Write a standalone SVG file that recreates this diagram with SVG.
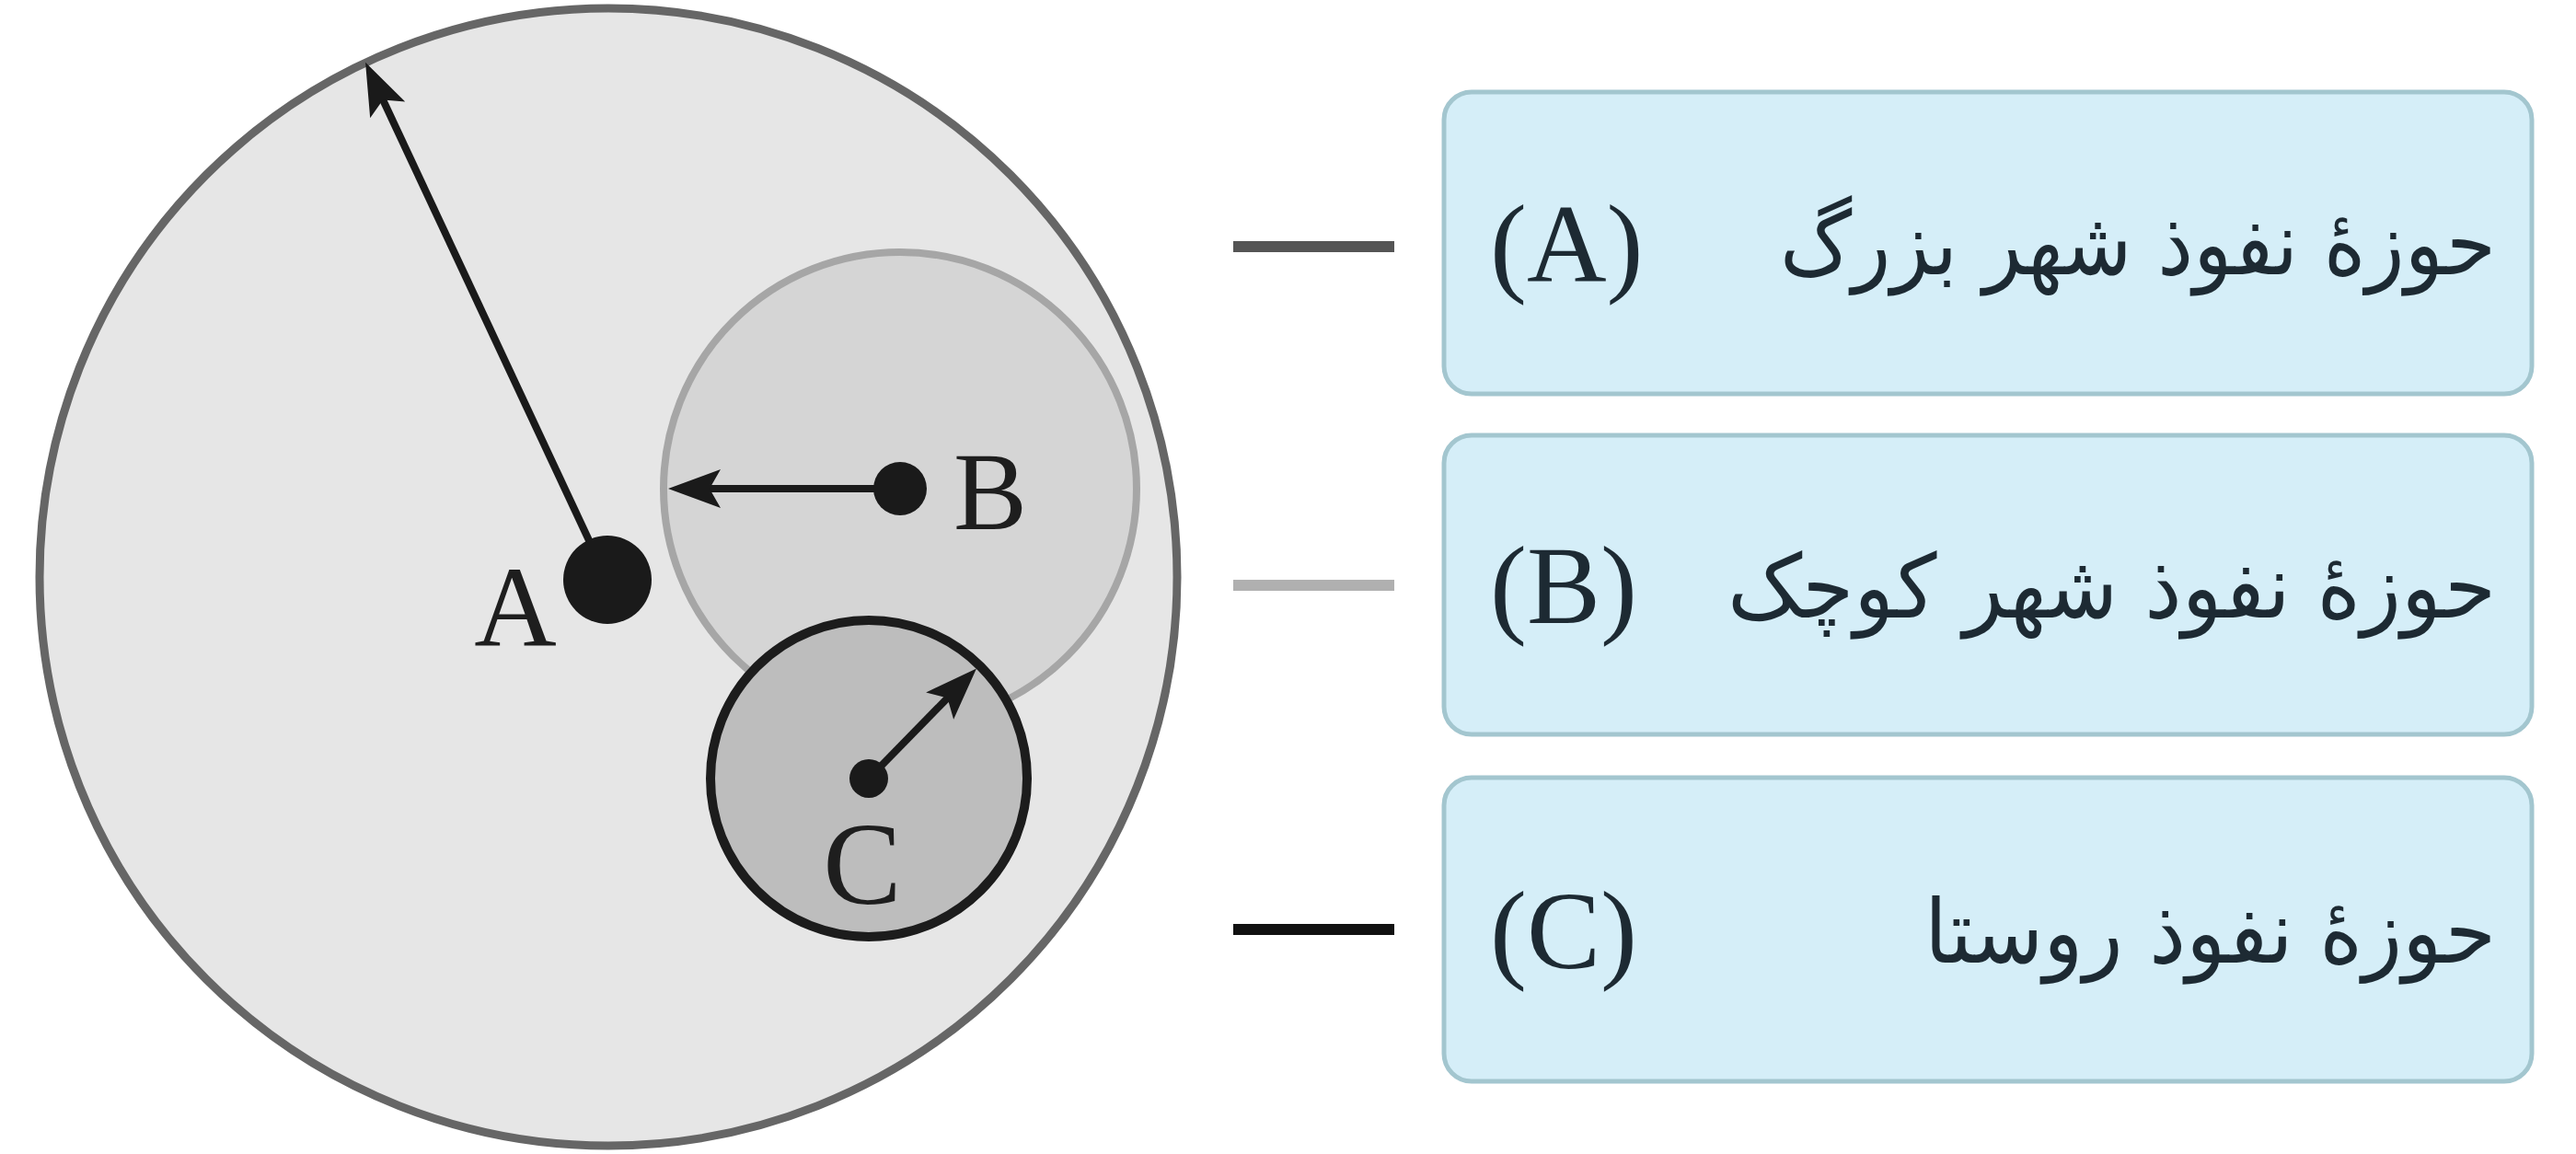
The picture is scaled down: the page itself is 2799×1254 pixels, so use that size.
<svg xmlns="http://www.w3.org/2000/svg" width="2799" height="1254" viewBox="0 0 2799 1254">
<style>
.lbl{font-family:"Liberation Serif","Times New Roman",serif;fill:#1e1e1e}
.key{font-family:"Liberation Serif","Times New Roman",serif;font-size:120px;fill:#1d2a33}
.fa{font-family:"DejaVu Sans","Noto Sans",sans-serif;font-size:96px;fill:#1d2a33}
.box{fill:#d5eef8;stroke:#a3c6cf;stroke-width:5}
.dot{fill:#1a1a1a}
.arr{stroke:#1a1a1a;stroke-width:8;fill:none;marker-end:url(#ah)}
</style>
<defs>
<marker id="ah" markerUnits="userSpaceOnUse" viewBox="0 0 60 44" markerWidth="60" markerHeight="44" refX="17" refY="22" orient="auto">
<path d="M0,1 L57,22 L0,43 L12,22 Z" fill="#1a1a1a"/>
</marker>
</defs>
<rect width="2799" height="1254" fill="#ffffff"/>
<g id="zone-A">
<circle cx="661" cy="627" r="618" fill="#e6e6e6" stroke="#666666" stroke-width="9"/>
</g>
<g id="zone-B">
<circle cx="978" cy="531" r="257" fill="#d5d5d5" stroke="#a6a6a6" stroke-width="8"/>
</g>
<g id="zone-C">
<circle cx="944" cy="846" r="172" fill="#bdbdbd" stroke="#1c1c1c" stroke-width="10"/>
</g>
<g id="connectors">
<path class="arr" d="M660,630 L414,104"/>
<path class="arr" d="M978,531 L766,531"/>
<path class="arr" d="M944,846 L1033,755"/>
<line x1="1340" y1="268" x2="1515" y2="268" stroke="#555555" stroke-width="12"/>
<line x1="1340" y1="636" x2="1515" y2="636" stroke="#b0b0b0" stroke-width="12"/>
<line x1="1340" y1="1010" x2="1515" y2="1010" stroke="#111111" stroke-width="12"/>
</g>
<g id="center-A">
<circle class="dot" cx="660" cy="630" r="48"/>
<text class="lbl" x="560" y="702" font-size="124" text-anchor="middle">A</text>
</g>
<g id="center-B">
<circle class="dot" cx="978" cy="531" r="29"/>
<text class="lbl" x="1036" y="575" font-size="120">B</text>
</g>
<g id="center-C">
<circle class="dot" cx="944" cy="846" r="21"/>
<text class="lbl" x="937" y="982" font-size="128" text-anchor="middle">C</text>
</g>
<g id="legend-A">
<rect class="box" x="1569" y="100" width="1182" height="328" rx="30"/>
<text class="key" x="1619" y="306">(A)</text>
<text class="fa" x="2712" y="298" text-anchor="end" textLength="778" lengthAdjust="spacingAndGlyphs">حوزهٔ نفوذ شهر بزرگ</text>
</g>
<g id="legend-B">
<rect class="box" x="1569" y="473" width="1182" height="325" rx="30"/>
<text class="key" x="1619" y="677">(B)</text>
<text class="fa" x="2712" y="671" text-anchor="end" textLength="835" lengthAdjust="spacingAndGlyphs">حوزهٔ نفوذ شهر کوچک</text>
</g>
<g id="legend-C">
<rect class="box" x="1569" y="845" width="1182" height="330" rx="30"/>
<text class="key" x="1619" y="1052">(C)</text>
<text class="fa" x="2712" y="1046" text-anchor="end" textLength="621" lengthAdjust="spacingAndGlyphs">حوزهٔ نفوذ روستا</text>
</g>
</svg>
